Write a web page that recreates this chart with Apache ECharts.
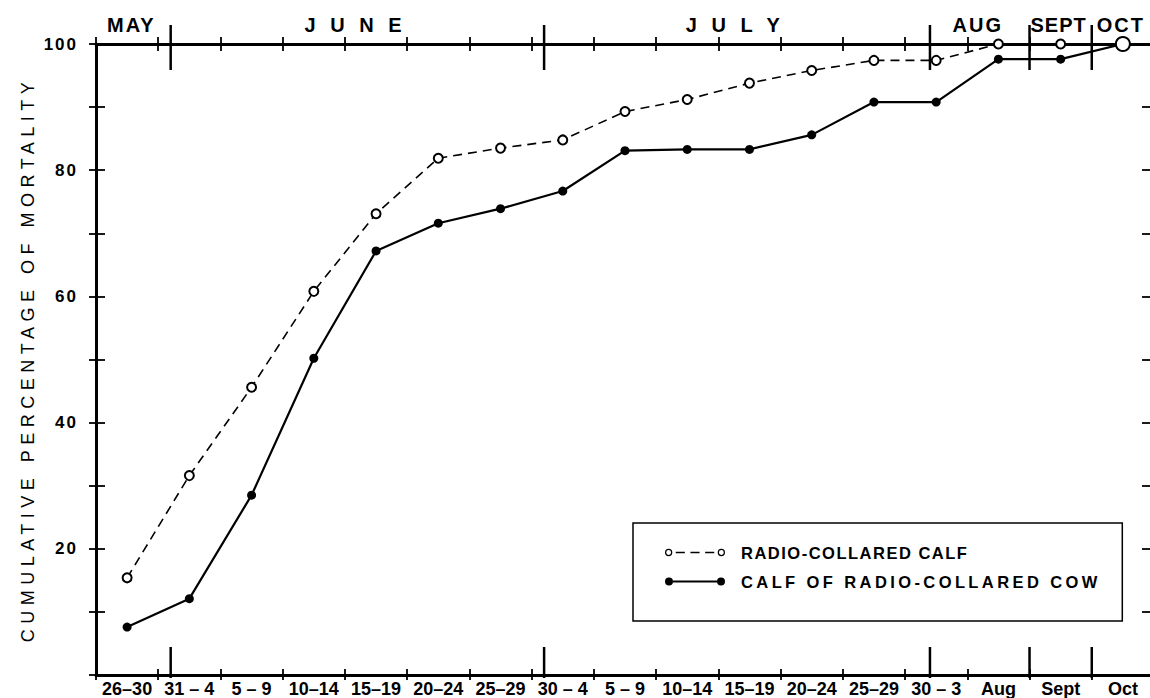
<!DOCTYPE html>
<html><head><meta charset="utf-8">
<script src="https://cdn.jsdelivr.net/npm/echarts@6/dist/echarts.min.js"></script>
<style>html,body{margin:0;padding:0;background:#fff}#c{width:1150px;height:698px}</style>
</head><body><div id="c"></div>
<script>
// ---- data ----
const periods = ['26–30','31 – 4','5 – 9','10–14','15–19','20–24','25–29','30 – 4','5 – 9','10–14','15–19','20–24','25–29','30 – 3','Aug','Sept','Oct'];
const seriesNames = ['RADIO-COLLARED CALF', 'CALF OF RADIO-COLLARED COW'];
const radioCollaredCalf = [15.4, 31.6, 45.6, 60.8, 73.1, 81.9, 83.5, 84.8, 89.3, 91.2, 93.8, 95.8, 97.4, 97.4, 100, 100, 100];
const calfOfCollaredCow = [7.6, 12.1, 28.5, 50.2, 67.2, 71.6, 73.9, 76.7, 83.1, 83.3, 83.3, 85.6, 90.8, 90.8, 97.6, 97.6, 100];
const yLabelValues = [20, 40, 60, 80, 100];
const yAxisTitle = 'CUMULATIVE PERCENTAGE OF MORTALITY';
const monthNames = ['MAY', 'J U N E', 'J U L Y', 'AUG', 'SEPT', 'OCT'];
const monthStart = [-0.5, 0.7, 6.7, 12.9, 14.5, 15.5];   // in period units
const monthEnd   = [0.7, 6.7, 12.9, 14.5, 15.5, 16.5];

// ---- styling ----
const FF = '"Liberation Sans", Arial, Helvetica, sans-serif';
const INK = '#000';
const letterSpacing = {
  'CUMULATIVE PERCENTAGE OF MORTALITY': 5.5,
  'RADIO-COLLARED CALF': 1.5,
  'CALF OF RADIO-COLLARED COW': 3.4,
  'J U N E': 4.5, 'J U L Y': 4.5, 'MAY': 2, 'AUG': 2, 'SEPT': 1, 'OCT': 2,
  '100': 2, '80': 2, '60': 2, '40': 2, '20': 2
};
const iconSolid = 'path://M0,4A4,4 0 1,1 8,4A4,4 0 1,1 0,4Z M52,4A4,4 0 1,1 60,4A4,4 0 1,1 52,4Z M8,3.1L52,3.1L52,4.9L8,4.9Z';
const iconOpen = 'path://M0.4,4A3.6,3.6 0 1,1 7.6,4A3.6,3.6 0 1,1 0.4,4Z M1.6,4A2.4,2.4 0 1,0 6.4,4A2.4,2.4 0 1,0 1.6,4Z ' +
  'M52.4,4A3.6,3.6 0 1,1 59.6,4A3.6,3.6 0 1,1 52.4,4Z M53.6,4A2.4,2.4 0 1,0 58.4,4A2.4,2.4 0 1,0 53.6,4Z ' +
  'M11,3.3L20,3.3L20,4.7L11,4.7Z M25.5,3.3L34.5,3.3L34.5,4.7L25.5,4.7Z M40,3.3L49,3.3L49,4.7L40,4.7Z';

const chart = echarts.init(document.getElementById('c'), null, {renderer: 'svg'});

const last = periods.length - 1;
const openData = radioCollaredCalf.map((v, i) => i === last ? {value: v, symbolSize: 14, itemStyle: {borderWidth: 3.5}} : v);
const solidData = calfOfCollaredCow.map((v, i) => i === last ? {value: v, symbol: 'none'} : v);

function renderMonth(params, api) {
  const s = api.value(0), e = api.value(1);
  const pTop = api.coord([s, 100]);
  const pBot = api.coord([s, 0]);
  const xm = api.coord([(s + e) / 2, 0])[0];
  const top = pTop[1], bot = pBot[1], xs = pTop[0];
  const children = [{
    type: 'text', x: xm - 2, y: top - 19, silent: true,
    style: {text: monthNames[params.dataIndex], fill: INK, fontSize: 20, fontWeight: 'bold', fontFamily: FF, align: 'center', verticalAlign: 'middle'}
  }];
  if (s > -0.5) {
    children.push({type: 'line', silent: true, shape: {x1: xs, y1: top - 19, x2: xs, y2: top + 26}, style: {stroke: INK, lineWidth: 2.5}});
    children.push({type: 'line', silent: true, shape: {x1: xs, y1: bot - 28, x2: xs, y2: bot + 3}, style: {stroke: INK, lineWidth: 2.5}});
  }
  return {type: 'group', children};
}

const axisLineThick = {show: true, onZero: false, lineStyle: {color: INK, width: 3}};
const noLine = {show: false, onZero: false};
const tickStyle = {color: INK, width: 1.8};

chart.setOption({
  animation: false,
  backgroundColor: '#fff',
  textStyle: {fontFamily: FF, color: INK},
  grid: {left: 96, right: -4, top: 44, bottom: 23, containLabel: false, outerBoundsMode: 'none'},
  legend: {
    left: 633, top: 523, orient: 'vertical',
    itemWidth: 60, itemHeight: 8, itemGap: 12,
    padding: [21, 110, 31, 32],
    borderColor: INK, borderWidth: 1.5, borderRadius: 0, backgroundColor: '#fff',
    selectedMode: false,
    textStyle: {fontSize: 16.5, fontWeight: 'bold', color: INK, fontFamily: FF, lineHeight: 16, padding: [0, 0, 0, 11]},
    data: [
      {name: seriesNames[0], icon: iconOpen, itemStyle: {color: INK, borderWidth: 0}},
      {name: seriesNames[1], icon: iconSolid, itemStyle: {color: INK, borderWidth: 0}}
    ]
  },
  xAxis: [
    {type: 'category', position: 'bottom', data: periods, boundaryGap: true,
     axisLine: axisLineThick,
     axisTick: {show: true, inside: false, length: 5, interval: 0, lineStyle: tickStyle},
     axisLabel: {interval: 0, margin: 5, fontSize: 18, fontWeight: 'bold', color: INK, fontFamily: FF},
     splitLine: {show: false}},
    {type: 'category', position: 'bottom', data: periods, boundaryGap: true,
     axisLine: noLine, axisLabel: {show: false}, splitLine: {show: false},
     axisTick: {show: true, inside: true, length: 6, interval: 0, lineStyle: tickStyle}},
    {type: 'category', position: 'top', data: periods, boundaryGap: true,
     axisLine: axisLineThick, axisLabel: {show: false}, splitLine: {show: false},
     axisTick: {show: true, inside: false, length: 7, interval: 0, lineStyle: tickStyle}},
    {type: 'category', position: 'top', data: periods, boundaryGap: true,
     axisLine: noLine, axisLabel: {show: false}, splitLine: {show: false},
     axisTick: {show: true, inside: true, length: 7, interval: 0, lineStyle: tickStyle}},
    {type: 'value', min: -0.5, max: 16.5, show: false, axisLine: noLine}
  ],
  yAxis: [
    {type: 'value', position: 'left', min: 0, max: 100, interval: 10,
     axisLine: axisLineThick,
     axisTick: {show: true, inside: false, length: 7, lineStyle: tickStyle},
     axisLabel: {margin: 18, fontSize: 17, fontWeight: 'bold', color: INK, fontFamily: FF,
       formatter: v => yLabelValues.indexOf(v) >= 0 ? String(v) : ''},
     splitLine: {show: false},
     name: yAxisTitle, nameLocation: 'middle', nameGap: 59, nameRotate: 90,
     nameTextStyle: {fontSize: 18, fontWeight: 'normal', color: INK, fontFamily: FF}},
    {type: 'value', position: 'left', min: 0, max: 100, interval: 10,
     axisLine: noLine, axisLabel: {show: false}, splitLine: {show: false},
     axisTick: {show: true, inside: true, length: 9, lineStyle: tickStyle}},
    {type: 'value', position: 'right', min: 0, max: 100, interval: 10,
     axisLine: axisLineThick, axisLabel: {show: false}, splitLine: {show: false},
     axisTick: {show: true, inside: true, length: 12, lineStyle: tickStyle}}
  ],
  series: [
    {name: seriesNames[0], type: 'line', xAxisIndex: 0, yAxisIndex: 0, z: 4,
     data: openData, symbol: 'emptyCircle', symbolSize: 9, showAllSymbol: true,
     itemStyle: {color: INK, borderColor: INK, borderWidth: 1.5},
     lineStyle: {color: INK, width: 1.6, type: [9, 6]},
     emphasis: {disabled: true}},
    {name: seriesNames[1], type: 'line', xAxisIndex: 0, yAxisIndex: 0, z: 3,
     data: solidData, symbol: 'circle', symbolSize: 9, showAllSymbol: true,
     itemStyle: {color: INK},
     lineStyle: {color: INK, width: 2.2},
     emphasis: {disabled: true}},
    {type: 'custom', xAxisIndex: 4, yAxisIndex: 0, clip: false, silent: true, z: 5,
     renderItem: renderMonth,
     encode: {x: [0, 1]},
     data: monthNames.map((n, i) => [monthStart[i], monthEnd[i]])}
  ]
});

function applySpacing() {
  document.querySelectorAll('#c text').forEach(t => {
    const k = t.textContent.trim();
    if (letterSpacing[k] != null) t.style.letterSpacing = letterSpacing[k] + 'px';
  });
}
applySpacing();
chart.on('finished', applySpacing);
</script>
</body></html>
